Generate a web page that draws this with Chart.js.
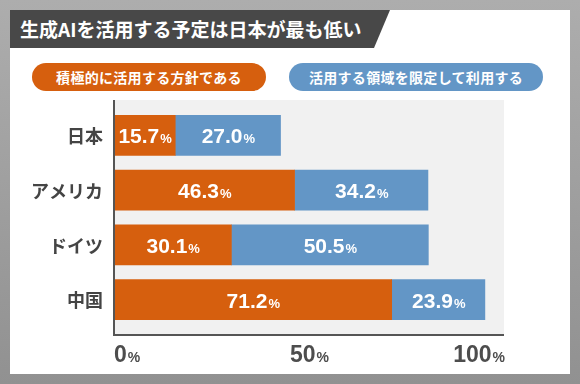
<!DOCTYPE html>
<html>
<head>
<meta charset="utf-8">
<script src="https://cdn.jsdelivr.net/npm/chart.js@4.4.1/dist/chart.umd.min.js"></script>
<style>
  body { margin: 0; width: 580px; height: 384px; overflow: hidden; background: linear-gradient(#adadad, #919191); font-family: "Noto Sans CJK JP", sans-serif; }
  #card { position: absolute; left: 10px; top: 10px; width: 560px; height: 364px; background: #fff; }
  #title { position: absolute; left: 10px; top: 10px; width: 380px; height: 38px; background: #484848; color: #fff;
    font-weight: bold; font-size: 19px; line-height: 38px; padding-left: 10px; box-sizing: border-box;
    clip-path: polygon(0 0, 100% 0, calc(100% - 16px) 100%, 0 100%); }
  .pill { position: absolute; top: 63px; height: 28px; border-radius: 14px; color: #fff; font-weight: bold;
    font-size: 14px; line-height: 28px; text-align: center; letter-spacing: 0.3px; }
  #chart { position: absolute; left: 0; top: 0; }
</style>
</head>
<body>
<div id="card"></div>
<div id="title">生成AIを活用する予定は日本が最も低い</div>
<div id="legend"></div>
<canvas id="chart" width="580" height="384"></canvas>
<script>
const categories = ['日本', 'アメリカ', 'ドイツ', '中国']
const activeValues = [15.7, 46.3, 30.1, 71.2]
const limitedValues = [27.0, 34.2, 50.5, 23.9]
const seriesNames = ['積極的に活用する方針である', '活用する領域を限定して利用する']
const seriesColors = ['#d65f0e', '#6396c6']
const xTicks = [0, 50, 100]

// legend pills
const legend = document.getElementById('legend')
const pillPos = [[32, 234], [289, 254]]
seriesNames.forEach((name, i) => {
    const d = document.createElement('div')
    d.className = 'pill'
    d.style.left = pillPos[i][0] + 'px'
    d.style.width = pillPos[i][1] + 'px'
    d.style.background = seriesColors[i]
    d.innerText = name
    legend.appendChild(d)
})

const numFont = '"Liberation Sans", Arial, sans-serif'

function drawPercent(ctx, text, cx, baseline, bigSize, smallSize, align) {
    ctx.font = 'bold ' + bigSize + 'px ' + numFont
    const w1 = ctx.measureText(text).width
    ctx.font = 'bold ' + smallSize + 'px ' + numFont
    const w2 = ctx.measureText('%').width
    let x = cx - (w1 + w2) / 2
    if (align === 'left') x = cx
    if (align === 'right') x = cx - w1 - w2
    ctx.textAlign = 'left'
    ctx.textBaseline = 'alphabetic'
    ctx.font = 'bold ' + bigSize + 'px ' + numFont
    ctx.fillText(text, x, baseline)
    ctx.font = 'bold ' + smallSize + 'px ' + numFont
    ctx.fillText('%', x + w1 + 1, baseline)
}

const decor = {
    id: 'decor',
    beforeDatasetsDraw(chart) {
        const { ctx, chartArea } = chart
        ctx.save()
        ctx.fillStyle = '#f1f1f1'
        ctx.fillRect(chartArea.left, chartArea.top - 8, chartArea.right - chartArea.left, chartArea.bottom - chartArea.top + 16)
        ctx.restore()
    },
    afterDatasetsDraw(chart) {
        const { ctx, chartArea, scales } = chart
        ctx.save()
        // axes
        ctx.strokeStyle = '#555'
        ctx.lineWidth = 2
        ctx.beginPath()
        ctx.moveTo(chartArea.left, chartArea.top - 8)
        ctx.lineTo(chartArea.left, chartArea.bottom + 8)
        ctx.lineTo(chartArea.right, chartArea.bottom + 8)
        ctx.stroke()

        // category labels
        ctx.fillStyle = '#444'
        ctx.font = 'bold 18px "Noto Sans CJK JP", sans-serif'
        ctx.textAlign = 'right'
        ctx.textBaseline = 'middle'
        categories.forEach((c, i) => {
            ctx.fillText(c, chartArea.left - 11, scales.y.getPixelForValue(i) + 1)
        })

        // x tick labels
        ctx.fillStyle = '#4d4d4d'
        xTicks.forEach((t, i) => {
            const align = i === 0 ? 'left' : (i === xTicks.length - 1 ? 'right' : 'center')
            drawPercent(ctx, String(t), scales.x.getPixelForValue(t), chartArea.bottom + 35, 23, 14, align)
        })

        // value labels
        ctx.fillStyle = '#fff'
        chart.data.datasets.forEach((ds, di) => {
            chart.getDatasetMeta(di).data.forEach((bar, i) => {
                const cx = (bar.x + bar.base) / 2
                drawPercent(ctx, ds.data[i].toFixed(1), cx, bar.y + 8, 21, 13, 'center')
            })
        })
        ctx.restore()
    }
}

new Chart(document.getElementById('chart'), {
    type: 'bar',
    data: {
        labels: categories,
        datasets: [
            { label: seriesNames[0], data: activeValues, backgroundColor: seriesColors[0], borderWidth: 0, barThickness: 40 },
            { label: seriesNames[1], data: limitedValues, backgroundColor: seriesColors[1], borderWidth: 0, barThickness: 40 }
        ]
    },
    options: {
        indexAxis: 'y',
        responsive: false,
        animation: false,
        layout: { padding: { left: 114, right: 76, top: 108, bottom: 57 } },
        scales: {
            x: { stacked: true, min: 0, max: 100, display: false },
            y: { stacked: true, display: false }
        },
        plugins: { legend: { display: false }, tooltip: { enabled: false } }
    },
    plugins: [decor]
})
</script>
</body>
</html>
